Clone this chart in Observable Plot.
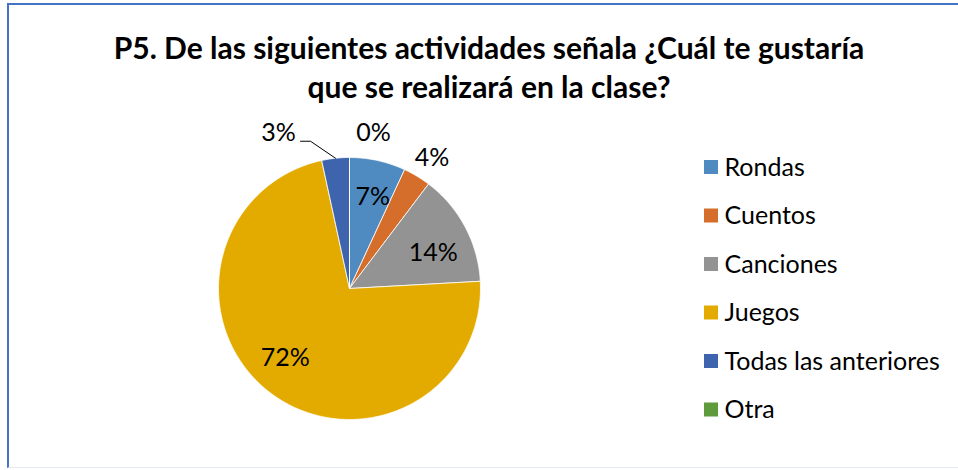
<!DOCTYPE html>
<html>
<head>
<meta charset="utf-8">
<script src="https://cdn.jsdelivr.net/npm/d3@7"></script>
<script src="https://cdn.jsdelivr.net/npm/@observablehq/plot@0.6"></script>
<style>
  html, body { margin: 0; padding: 0; background: #fff; }
  #page { position: relative; width: 958px; height: 470px; overflow: hidden; }
  #frame { position: absolute; left: 7px; top: 3px; width: 980px; height: 465px; box-sizing: border-box;
           border-left: 2px solid #4472c4; border-top: 2px solid #4472c4; border-bottom: 1px solid #e4e9f4; }
  #title { position: absolute; left: 0; top: 28px; width: 978px; text-align: center;
           font-family: Lato, "Open Sans", sans-serif; font-weight: bold; font-size: 30px; line-height: 39px; color: #000; }
  #chart { position: absolute; left: 0; top: 110px; }
</style>
</head>
<body>
<div id="page">
  <div id="frame"></div>
  <div id="title">P5. De las siguientes actividades señala ¿Cuál te gustaría<br>que se realizará en la clase?</div>
  <div id="chart"></div>
</div>
<script>
// ---- data ----
const categories = ["Rondas", "Cuentos", "Canciones", "Juegos", "Todas las anteriores", "Otra"];
const shares = [6.9, 3.4, 13.8, 72.4, 3.4, 0];          // slice sizes
const labels = ["7%", "4%", "14%", "72%", "3%", "0%"];   // data labels as printed
const colors = ["#4f8bc1", "#d56e2b", "#939393", "#e3ab00", "#3e64ae", "#5f9a3c"];

// ---- layout ----
const cx = 349, cy = 288, R = 131;           // page coordinates of pie
const labelR = [0.72, 1.18, 0.69, 0.72, null, 1.19];
const labelD = [[3, 1], [3, 2], [4, 7], [-7, -6], [0, 0], [24, 0]];
const legendX = 704, legendY0 = 167, legendStep = 48.5, sw = 14;

const total = d3.sum(shares);
let acc = 0;
const slices = categories.map((c, i) => {
  const a0 = acc / total * 2 * Math.PI;
  acc += shares[i];
  const a1 = acc / total * 2 * Math.PI;
  return {category: c, value: shares[i], label: labels[i], a0, a1, mid: (a0 + a1) / 2, i};
});

// polygon points for each slice (center + arc samples)
const piePts = [];
for (const s of slices) {
  piePts.push({category: s.category, x: cx, y: cy});
  const n = Math.max(2, Math.ceil((s.a1 - s.a0) / (Math.PI / 360)));
  for (let k = 0; k <= n; k++) {
    const a = s.a0 + (s.a1 - s.a0) * k / n;
    piePts.push({category: s.category, x: cx + R * Math.sin(a), y: cy - R * Math.cos(a)});
  }
  piePts.push({category: s.category, x: cx, y: cy});
}

// data labels
const todasIdx = 4;
const lbl = slices.map((s, i) => {
  if (i === todasIdx) return null;
  const r = R * labelR[i];
  return {text: s.label, x: cx + r * Math.sin(s.mid) + labelD[i][0], y: cy - r * Math.cos(s.mid) + labelD[i][1]};
}).filter(Boolean);
// "Todas" label with leader line
const ts = slices[todasIdx];
const edge = {x: cx + R * Math.sin(ts.mid), y: cy - R * Math.cos(ts.mid)};
const tLabel = {text: ts.label, x: edge.x - 57, y: edge.y - 25};
lbl.push(tLabel);
const leader = [
  {x: tLabel.x + 22, y: tLabel.y + 8},
  {x: tLabel.x + 32, y: tLabel.y + 8},
  {x: edge.x, y: edge.y}
];

const legend = categories.map((c, i) => ({category: c, y: legendY0 + i * legendStep}));

const chart = Plot.plot({
  width: 958,
  height: 360,
  margin: 0,
  x: {domain: [0, 958], range: [0, 958], axis: null},
  y: {domain: [110, 470], range: [0, 360], axis: null},
  color: {domain: categories, range: colors},
  style: {background: "transparent", fontFamily: "Lato, 'Open Sans', sans-serif"},
  marks: [
    Plot.line(piePts, {x: "x", y: "y", z: "category", fill: "category", stroke: "white", strokeWidth: 0.8, strokeLinejoin: "round"}),
    Plot.text(lbl, {x: "x", y: "y", text: "text", fontSize: 25, fill: "#000"}),
    Plot.line(leader, {x: "x", y: "y", stroke: "#000", strokeWidth: 1}),
    Plot.rect(legend, {x1: () => legendX, x2: () => legendX + sw, y1: d => d.y - sw / 2, y2: d => d.y + sw / 2, fill: "category"}),
    Plot.text(legend, {x: () => legendX + sw + 6, y: "y", text: "category", textAnchor: "start", fontSize: 25, fill: "#000"})
  ]
});
document.getElementById("chart").appendChild(chart);
</script>
</body>
</html>
